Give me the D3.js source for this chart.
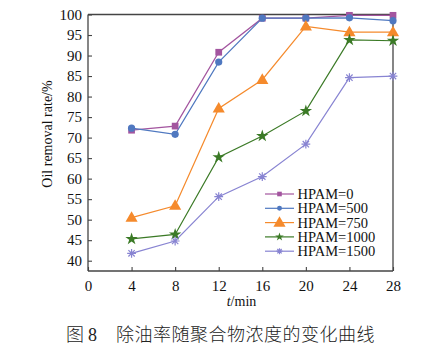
<!DOCTYPE html>
<html><head><meta charset="utf-8">
<script src="https://cdn.jsdelivr.net/npm/d3@7/dist/d3.min.js"></script>
<style>
html,body{margin:0;padding:0;background:#fff;}
svg{display:block;}
</style></head>
<body>
<svg id="c" width="440" height="357"></svg>
<script>
const times = [4, 8, 12, 16, 20, 24, 28];
const hpam0    = [71.8, 72.8, 90.8, 99.1, 99.1, 99.8, 99.8];
const hpam500  = [72.3, 70.8, 88.4, 99.1, 99.1, 99.2, 98.5];
const hpam750  = [50.5, 53.4, 77.1, 84.1, 97.1, 95.7, 95.7];
const hpam1000 = [45.3, 46.4, 65.2, 70.4, 76.5, 93.8, 93.6];
const hpam1500 = [41.8, 44.8, 55.6, 60.5, 68.4, 84.6, 85.0];
const seriesNames = ["HPAM=0", "HPAM=500", "HPAM=750", "HPAM=1000", "HPAM=1500"];
const xTicks = [0, 4, 8, 12, 16, 20, 24, 28];
const yTicks = [40, 45, 50, 55, 60, 65, 70, 75, 80, 85, 90, 95, 100];

const colors = ["#a3559f", "#4f78c0", "#f58a2c", "#3b7a26", "#8884d2"];
const shapes = ["square", "circle", "triangle", "star", "asterisk"];
const allValues = [hpam0, hpam500, hpam750, hpam1000, hpam1500];

const svg = d3.select("#c");
const x = d3.scaleLinear().domain([0, 28]).range([88, 393]);
const y = d3.scaleLinear().domain([40, 100]).range([260.7, 14.5]);
const yBottom = 271, yTop = 14.5;
const axisColor = "#444";
const font = "'Liberation Serif', 'Times New Roman', serif";

// frame top & right
svg.append("line").attr("x1", 88).attr("x2", 393).attr("y1", yTop).attr("y2", yTop)
  .attr("stroke", axisColor).attr("stroke-width", 1.3);
svg.append("line").attr("x1", 393).attr("x2", 393).attr("y1", yTop).attr("y2", yBottom)
  .attr("stroke", axisColor).attr("stroke-width", 1.3);

// x axis
const gx = svg.append("g").attr("transform", `translate(0,${yBottom})`)
  .call(d3.axisBottom(x).tickValues(xTicks).tickSizeInner(-4).tickSizeOuter(0).tickPadding(9));
// y axis
const gy = svg.append("g").attr("transform", `translate(88,0)`)
  .call(d3.axisLeft(y).tickValues(yTicks).tickSizeInner(-4).tickSizeOuter(0).tickPadding(6));
[gx, gy].forEach(g => {
  g.select(".domain").attr("stroke", axisColor).attr("stroke-width", 1.3);
  g.selectAll(".tick line").attr("stroke", axisColor).attr("stroke-width", 1.1);
  g.selectAll("text").attr("font-family", font).attr("font-size", 15).attr("fill", "#111");
});
gy.select(".domain").attr("d", `M0,${yBottom}V${yTop}`);
gx.select(".domain").attr("d", `M88,0H393`);

// axis titles
const xt = svg.append("text").attr("x", 241.5).attr("y", 306).attr("text-anchor", "middle")
  .attr("font-family", font).attr("font-size", 14).attr("fill", "#111");
xt.append("tspan").attr("font-style", "italic").text("t");
xt.append("tspan").text("/min");

svg.append("text").attr("transform", "translate(52,134) rotate(-90)").attr("text-anchor", "middle")
  .attr("font-family", font).attr("font-size", 14).attr("fill", "#111")
  .text("Oil removal rate/%");

// marker drawing
function asteriskPath(r) {
  const d = r * 0.72;
  return `M${-r},0H${r}M0,${-r}V${r}M${-d},${-d}L${d},${d}M${-d},${d}L${d},${-d}`;
}
function drawMarker(g, shape, color, s) {
  if (shape === "square") {
    g.append("rect").attr("x", -s * 0.42).attr("y", -s * 0.42).attr("width", s * 0.84).attr("height", s * 0.84).attr("fill", color);
  } else if (shape === "circle") {
    g.append("circle").attr("r", s * 0.45).attr("fill", color);
  } else if (shape === "triangle") {
    g.append("path").attr("d", d3.symbol(d3.symbolTriangle, s * s * 1.0)()).attr("fill", color)
      .attr("transform", `translate(0,${s * 0.08})`);
  } else if (shape === "star") {
    g.append("path").attr("d", d3.symbol(d3.symbolStar, s * s * 0.75)()).attr("fill", color);
  } else {
    g.append("path").attr("d", asteriskPath(s * 0.55)).attr("stroke", color).attr("stroke-width", 1.2).attr("fill", "none");
  }
}

const line = d3.line().x((d, i) => x(times[i])).y(d => y(d));
allValues.forEach((vals, k) => {
  svg.append("path").attr("d", line(vals)).attr("fill", "none")
    .attr("stroke", colors[k]).attr("stroke-width", 1.2);
});
allValues.forEach((vals, k) => {
  vals.forEach((v, i) => {
    const g = svg.append("g").attr("transform", `translate(${x(times[i])},${y(v)})`);
    drawMarker(g, shapes[k], colors[k], 8);
  });
});

// legend
const legY = [194, 208.3, 222.6, 236.9, 251.2];
seriesNames.forEach((name, k) => {
  const yy = legY[k];
  svg.append("line").attr("x1", 265).attr("x2", 294).attr("y1", yy).attr("y2", yy)
    .attr("stroke", colors[k]).attr("stroke-width", 1.2);
  const g = svg.append("g").attr("transform", `translate(279.5,${yy})`);
  drawMarker(g, shapes[k], colors[k], k === 2 ? 8 : 5.5);
  svg.append("text").attr("x", 297.5).attr("y", yy + 5).attr("font-family", font)
    .attr("font-size", 14.5).attr("fill", "#111").text(name);
});

// caption
const capFont = "'Noto Sans CJK SC', sans-serif";
const cap = svg.append("g").attr("font-family", capFont).attr("font-size", 18)
  .attr("font-weight", 300).attr("fill", "#222");
cap.append("text").attr("x", 66).attr("y", 341).text("图");
cap.append("text").attr("x", 88).attr("y", 341).attr("font-family", font).attr("font-size", 18).attr("font-weight", 400).text("8");
cap.append("text").attr("x", 116).attr("y", 341).attr("letter-spacing", 0.5)
  .text("除油率随聚合物浓度的变化曲线");
</script>
</body></html>
